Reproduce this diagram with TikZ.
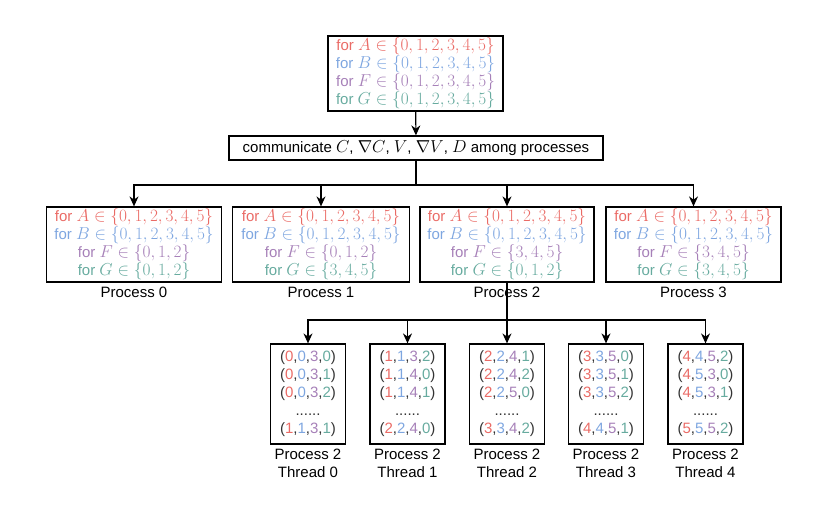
\documentclass[tikz,border=0pt]{standalone}
\usepackage{fontspec}
\setmainfont{Liberation Sans}
\DeclareMathSizes{15}{17}{12}{9}
\usetikzlibrary{arrows.meta}
\definecolor{cr}{HTML}{EA6B66}
\definecolor{cb}{HTML}{7EA6E0}
\definecolor{cp}{HTML}{A680B8}
\definecolor{cg}{HTML}{67AB9F}
\definecolor{dk}{HTML}{333333}
\newcommand{\tpl}[4]{\textcolor{dk}{(}\textcolor{cr}{#1}\textcolor{dk}{,}\textcolor{cb}{#2}\textcolor{dk}{,}\textcolor{cp}{#3}\textcolor{dk}{,}\textcolor{cg}{#4}\textcolor{dk}{)}}
\newcommand{\forA}[1]{\textcolor{cr}{for $A\in\{#1\}$}}
\newcommand{\forB}[1]{\textcolor{cb}{for $B\in\{#1\}$}}
\newcommand{\forF}[1]{\textcolor{cp}{for $F\in\{#1\}$}}
\newcommand{\forG}[1]{\textcolor{cg}{for $G\in\{#1\}$}}
\begin{document}
\begin{tikzpicture}[x=1pt,y=-1pt,
  box/.style={draw=black,line width=1.2pt,rectangle,align=center,inner sep=0pt,
    font=\fontsize{15}{18}\selectfont},
  lbl/.style={align=center,inner sep=0pt,font=\fontsize{15}{18}\selectfont},
  arr/.style={line width=1.2pt,-{Stealth[length=10pt,width=9pt]}},
  ln/.style={line width=1.2pt}]
\useasboundingbox (0,0) rectangle (830,513);
\node[box,minimum width=175pt,minimum height=75pt] (top) at (415.5,73.5)
  {\forA{0,1,2,3,4,5}\\\forB{0,1,2,3,4,5}\\\forF{0,1,2,3,4,5}\\\forG{0,1,2,3,4,5}};
\node[box,minimum width=374pt,minimum height=24pt] (comm) at (416,148)
  {communicate $C$, $\nabla C$, $V$, $\nabla V$, $D$ among processes};
\node[box,minimum width=175pt,minimum height=75pt] (p0) at (134,244.5)
  {\forA{0,1,2,3,4,5}\\\forB{0,1,2,3,4,5}\\\forF{0,1,2}\\\forG{0,1,2}};
\node[box,minimum width=177pt,minimum height=75pt] (p1) at (321,244.5)
  {\forA{0,1,2,3,4,5}\\\forB{0,1,2,3,4,5}\\\forF{0,1,2}\\\forG{3,4,5}};
\node[box,minimum width=174pt,minimum height=75pt] (p2) at (507,244.5)
  {\forA{0,1,2,3,4,5}\\\forB{0,1,2,3,4,5}\\\forF{3,4,5}\\\forG{0,1,2}};
\node[box,minimum width=175pt,minimum height=75pt] (p3) at (693.5,244.5)
  {\forA{0,1,2,3,4,5}\\\forB{0,1,2,3,4,5}\\\forF{3,4,5}\\\forG{3,4,5}};
\node[lbl] (l0) at (134,292) {Process 0};
\node[lbl] (l1) at (321,292) {Process 1};
\node[lbl] (l2) at (507,292) {Process 2};
\node[lbl] (l3) at (693.5,292) {Process 3};
\node[box,minimum width=75pt,minimum height=100pt] (t0) at (308,394)
  {\tpl0030\\\tpl0031\\\tpl0032\\\textcolor{dk}{......}\\\tpl1131};
\node[box,minimum width=75pt,minimum height=100pt] (t1) at (407.5,394)
  {\tpl1132\\\tpl1140\\\tpl1141\\\textcolor{dk}{......}\\\tpl2240};
\node[box,minimum width=75pt,minimum height=100pt] (t2) at (507,394)
  {\tpl2241\\\tpl2242\\\tpl2250\\\textcolor{dk}{......}\\\tpl3342};
\node[box,minimum width=75pt,minimum height=100pt] (t3) at (606,394)
  {\tpl3350\\\tpl3351\\\tpl3352\\\textcolor{dk}{......}\\\tpl4451};
\node[box,minimum width=75pt,minimum height=100pt] (t4) at (705.5,394)
  {\tpl4452\\\tpl4530\\\tpl4531\\\textcolor{dk}{......}\\\tpl5552};
\node[lbl] (tl0) at (308,463) {Process 2\\Thread 0};
\node[lbl] (tl1) at (407.5,463) {Process 2\\Thread 1};
\node[lbl] (tl2) at (507,463) {Process 2\\Thread 2};
\node[lbl] (tl3) at (606,463) {Process 2\\Thread 3};
\node[lbl] (tl4) at (705.5,463) {Process 2\\Thread 4};
\coordinate (hb) at (416,185);
\coordinate (tb) at (507,320);
\draw[arr] (top) -- (comm);
\foreach \p in {p0,p1,p2,p3}
  \draw[arr] (comm.south) -- (comm.south |- hb) -| (\p.north);
\foreach \t in {t0,t1,t2,t3,t4}
  \draw[arr] (p2.south) -- (p2.south |- tb) -| (\t.north);
\end{tikzpicture}
\end{document}
